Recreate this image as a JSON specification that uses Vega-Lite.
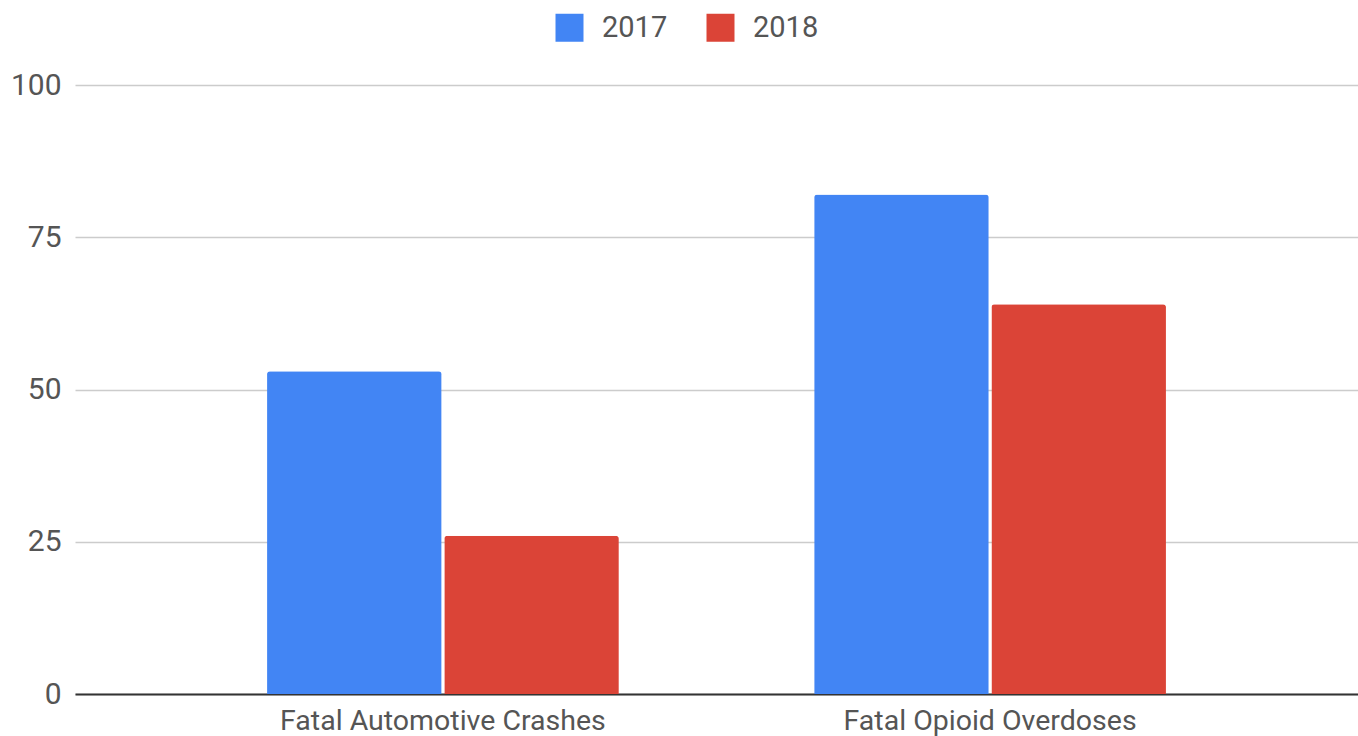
{
  "$schema": "https://vega.github.io/schema/vega-lite/v6.json",
  "width": 1283,
  "height": 609,
  "autosize": {"type": "none"},
  "padding": {"left": 75, "top": 85, "right": 0, "bottom": 42},
  "background": "white",
  "config": {
    "view": {"stroke": null},
    "font": "Roboto"
  },
  "data": {
    "values": [
      {"category": "Fatal Automotive Crashes", "year": "2017", "value": 53},
      {"category": "Fatal Automotive Crashes", "year": "2018", "value": 26},
      {"category": "Fatal Opioid Overdoses", "year": "2017", "value": 82},
      {"category": "Fatal Opioid Overdoses", "year": "2018", "value": 64}
    ]
  },
  "mark": {"type": "bar", "cornerRadiusTopLeft": 3, "cornerRadiusTopRight": 3},
  "encoding": {
    "x": {
      "field": "category",
      "type": "nominal",
      "sort": null,
      "scale": {"paddingInner": 0.357, "paddingOuter": 0.351},
      "axis": {
        "title": null,
        "labelAngle": 0,
        "labelFont": "Roboto",
        "labelFontSize": 28.5,
        "labelColor": "#555555",
        "labelPadding": 12,
        "labelLimit": 0,
        "ticks": false,
        "domain": true,
        "domainColor": "#333333",
        "domainWidth": 2,
        "grid": false
      }
    },
    "xOffset": {
      "field": "year",
      "type": "nominal",
      "scale": {"paddingInner": 0.015, "paddingOuter": 0}
    },
    "y": {
      "field": "value",
      "type": "quantitative",
      "scale": {"domain": [0, 100], "nice": false},
      "axis": {
        "title": null,
        "values": [0, 25, 50, 75, 100],
        "labelFont": "Roboto",
        "labelFontSize": 30,
        "labelColor": "#555555",
        "labelPadding": 14,
        "ticks": false,
        "domain": false,
        "grid": true,
        "gridColor": "#cccccc",
        "gridWidth": 1.5
      }
    },
    "color": {
      "field": "year",
      "type": "nominal",
      "scale": {"domain": ["2017", "2018"], "range": ["#4285F4", "#DB4437"]},
      "legend": {
        "title": null,
        "orient": "none",
        "direction": "horizontal",
        "legendX": 480,
        "legendY": -72,
        "symbolType": "square",
        "symbolSize": 784,
        "symbolStrokeWidth": 0,
        "labelFont": "Roboto",
        "labelFontSize": 29,
        "labelColor": "#555555",
        "labelOffset": 18,
        "columnPadding": 38
      }
    }
  }
}
